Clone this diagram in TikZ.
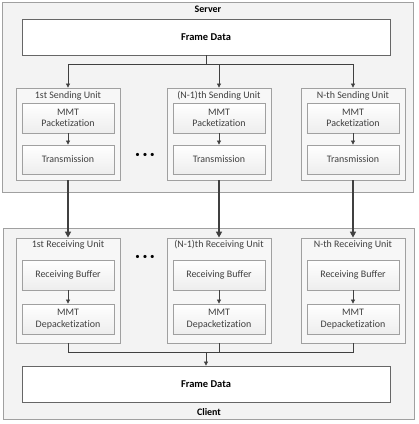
\documentclass[tikz,border=0pt]{standalone}
\usepackage{fontspec}
\setmainfont{Carlito}[Ligatures=NoCommon]
\usepackage{tikz}
\usetikzlibrary{positioning,arrows.meta}
\definecolor{textgray}{HTML}{404040}
\definecolor{linegray}{HTML}{404040}
\definecolor{edgegray}{HTML}{A0A0A0}
\definecolor{panelgray}{HTML}{F3F3F3}
\definecolor{unitgray}{HTML}{F7F7F7}
\tikzset{
  side/.style={draw=edgegray, fill=panelgray, line width=0.8bp, minimum width=411bp, minimum height=190bp, inner sep=0},
  frame/.style={draw=linegray!80, fill=white, line width=0.8bp, minimum width=368bp, minimum height=36bp, font=\fontsize{10.5}{12}\selectfont\bfseries, text=black},
  unit/.style={draw=edgegray, fill=unitgray, line width=0.8bp, minimum width=104bp, inner sep=0},
  stage/.style={draw=edgegray, top color=white, bottom color=gray!14, line width=0.8bp, minimum width=92bp, minimum height=30bp, inner sep=1bp, align=center},
  heading/.style={font=\fontsize{10}{12}\selectfont\bfseries, text=black},
  dots/.style={font=\fontsize{9}{10}\selectfont, text=black},
  link/.style={draw=linegray, line width=0.7bp, -{Triangle[length=4bp,width=4bp]}},
  plain/.style={draw=linegray, line width=0.7bp},
  trunk/.style={draw=linegray, line width=1.6bp, -{Triangle[length=6bp,width=6bp]}}
}
\begin{document}
\begin{tikzpicture}[x=1bp, y=-1bp, every node/.style={font=\fontsize{10}{11.5}\selectfont, text=textgray}]
\useasboundingbox (0,0) rectangle (419,424);

\node[side] (S) at (208,97) {};
\node[side, minimum height=191bp] (C) at (208.5,323.5) {};
\node[heading] (Slabel) at (208,9) {Server};
\node[heading] (Clabel) at (209,412) {Client};

\node[frame] (FDs) at (206,37) {Frame Data};
\node[frame] (FDc) at (206,384) {Frame Data};

\node[unit, minimum height=92bp] (SU1) at (68,134) {};
\node[unit, minimum height=92bp] (SU2) at (219,134) {};
\node[unit, minimum height=92bp] (SU3) at (353,134) {};
\node (SU1t) at (68,96) {1st Sending Unit};
\node (SU2t) at (219,96) {(N-1)th Sending Unit};
\node (SU3t) at (353,96) {N-th Sending Unit};

\node[stage] (P1) at (68,118) {MMT\\Packetization};
\node[stage] (P2) at (219,118) {MMT\\Packetization};
\node[stage] (P3) at (353,118) {MMT\\Packetization};
\node[stage, minimum height=29bp] (T1) at (68,159.5) {Transmission};
\node[stage, minimum height=29bp] (T2) at (219,159.5) {Transmission};
\node[stage, minimum height=29bp] (T3) at (353,159.5) {Transmission};

\node[unit, minimum height=105bp] (RU1) at (68,290.5) {};
\node[unit, minimum height=105bp] (RU2) at (219,290.5) {};
\node[unit, minimum height=105bp] (RU3) at (353,290.5) {};
\node (RU1t) at (68,245) {1st Receiving Unit};
\node (RU2t) at (219,245) {(N-1)th Receiving Unit};
\node (RU3t) at (353,245) {N-th Receiving Unit};

\node[stage] (B1) at (68,275) {Receiving Buffer};
\node[stage] (B2) at (219,275) {Receiving Buffer};
\node[stage] (B3) at (353,275) {Receiving Buffer};
\node[stage] (D1) at (68,319) {MMT\\Depacketization};
\node[stage] (D2) at (219,319) {MMT\\Depacketization};
\node[stage] (D3) at (353,319) {MMT\\Depacketization};

\node[dots] (Sdots) at (145,155) {\textbullet\,\,\textbullet\,\,\textbullet};
\node[dots] (Rdots) at (145,257) {\textbullet\,\,\textbullet\,\,\textbullet};

\coordinate (Sbus) at (206,64);
\coordinate (Cbus) at (206,352);

\draw[plain] (FDs.south) -- (Sbus);
\draw[link] (Sbus) -| (SU1.north);
\draw[link] (Sbus) -| (SU2.north);
\draw[link] (Sbus) -| (SU3.north);

\draw
	(P1) edge[link] (T1)
	(P2) edge[link] (T2)
	(P3) edge[link] (T3)
	(B1) edge[link] (D1)
	(B2) edge[link] (D2)
	(B3) edge[link] (D3)
	(SU1) edge[trunk] (RU1)
	(SU2) edge[trunk] (RU2)
	(SU3) edge[trunk] (RU3)
;

\draw[plain] (RU1.south) |- (Cbus);
\draw[plain] (RU2.south) |- (Cbus);
\draw[plain] (RU3.south) |- (Cbus);
\draw[link] (Cbus) -- (FDc.north);
\end{tikzpicture}
\end{document}
